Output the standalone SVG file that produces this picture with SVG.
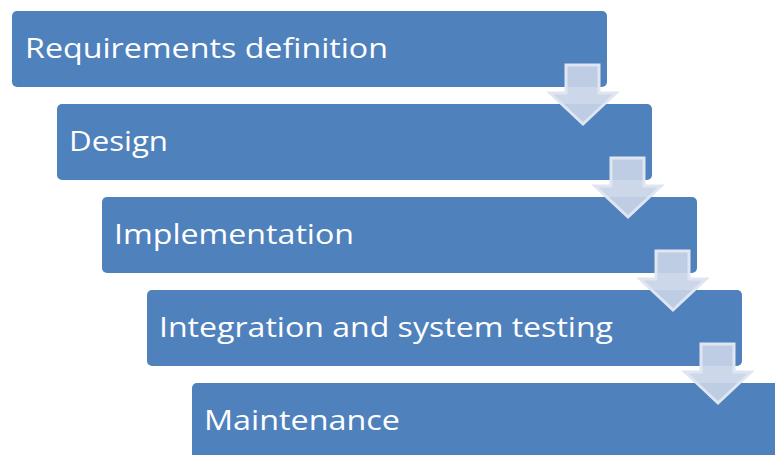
<svg xmlns="http://www.w3.org/2000/svg" width="775" height="455" viewBox="0 0 775 455">
<style>
.box{fill:#4f81bd;}
.lbl{fill:#ffffff;font-family:"Open Sans","Liberation Sans",sans-serif;font-size:28px;font-variant-ligatures:none;}
.arr{fill:#c8d4e7;fill-opacity:0.92;stroke:#dfe6f1;stroke-width:3;stroke-linejoin:miter;}
</style>
<rect width="775" height="455" fill="#ffffff"/>
<g id="n1"><rect class="box" x="12" y="11" width="595" height="76" rx="5"/><text class="lbl" x="25" y="58" textLength="363" lengthAdjust="spacingAndGlyphs">Requirements definition</text></g>
<g id="n2"><rect class="box" x="57" y="104" width="595" height="76" rx="5"/><text class="lbl" x="69" y="151" textLength="99" lengthAdjust="spacingAndGlyphs">Design</text></g>
<g id="n3"><rect class="box" x="102" y="197" width="595" height="76" rx="5"/><text class="lbl" x="114" y="244" textLength="240" lengthAdjust="spacingAndGlyphs">Implementation</text></g>
<g id="n4"><rect class="box" x="147" y="290" width="595" height="76" rx="5"/><text class="lbl" x="159" y="337" textLength="454" lengthAdjust="spacingAndGlyphs">Integration and system testing</text></g>
<g id="n5"><rect class="box" x="192" y="383" width="595" height="80" rx="5"/><text class="lbl" x="204" y="430" textLength="196" lengthAdjust="spacingAndGlyphs">Maintenance</text></g>
<g id="connectors">
<path class="arr" d="M566,65 H599 V93 H616 L583,124 L550,93 H566 Z"/>
<path class="arr" d="M611,158 H644 V186 H661 L628,217 L595,186 H611 Z"/>
<path class="arr" d="M656,251 H689 V279 H706 L673,310 L640,279 H656 Z"/>
<path class="arr" d="M701,344 H734 V372 H751 L718,403 L685,372 H701 Z"/>
</g>
</svg>
